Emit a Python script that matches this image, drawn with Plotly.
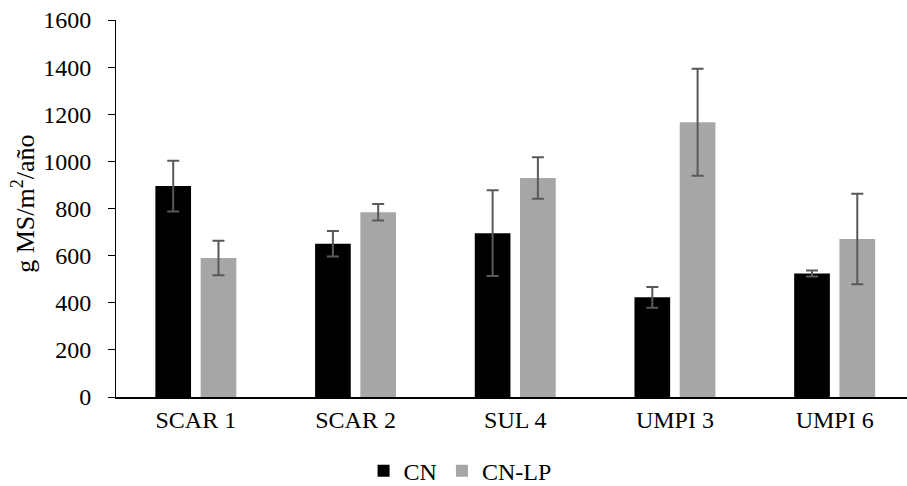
import plotly.graph_objects as go

categories = ["SCAR 1", "SCAR 2", "SUL 4", "UMPI 3", "UMPI 6"]
cn_values = [895, 650, 695, 423, 524]
cn_errors = [108, 54, 182, 44, 13]
cnlp_values = [590, 784, 929, 1166, 671]
cnlp_errors = [73, 35, 88, 227, 192]
y_ticks = [0, 200, 400, 600, 800, 1000, 1200, 1400, 1600]
y_title = "g MS/m<sup>2</sup>/año"

FONT = "Liberation Serif, Times New Roman, serif"
ERR_COLOR = "#595959"
FS = 24

fig = go.Figure()
fig.add_trace(go.Bar(
    name="CN", x=categories, y=cn_values,
    marker=dict(color="#000000", line=dict(width=0)),
    error_y=dict(type="data", array=cn_errors, visible=True,
                 color=ERR_COLOR, thickness=2, width=6),
))
fig.add_trace(go.Bar(
    name="CN-LP", x=categories, y=cnlp_values,
    marker=dict(color="#A6A6A6", line=dict(width=0)),
    error_y=dict(type="data", array=cnlp_errors, visible=True,
                 color=ERR_COLOR, thickness=2, width=6),
))

fig.update_layout(
    width=907, height=486,
    margin=dict(l=116, r=0, t=20, b=89, autoexpand=False),
    paper_bgcolor="white", plot_bgcolor="white",
    barmode="group", bargap=0.433, bargroupgap=0.212,
    font=dict(family=FONT, size=FS, color="#000000"),
    showlegend=True,
    legend=dict(orientation="h", x=0.435, xanchor="center", y=-0.197, yanchor="middle",
                font=dict(family=FONT, size=FS), itemwidth=30,
                bgcolor="rgba(0,0,0,0)"),
    annotations=[dict(text=y_title, xref="paper", yref="paper", x=-0.1165, y=0.512,
                      xanchor="center", yanchor="middle", textangle=-90, showarrow=False,
                      font=dict(family=FONT, size=26, color="#000000"))],
)
fig.update_xaxes(
    range=[-0.5, 4.453], showline=True, linecolor="#000000", linewidth=1.5,
    ticks="", showgrid=False, zeroline=False, automargin=False,
    tickfont=dict(family=FONT, size=FS),
)
fig.update_yaxes(
    range=[0, 1600], tickvals=y_ticks, showline=True, linecolor="#000000", linewidth=1,
    ticks="outside", ticklen=7, tickcolor="#000000", tickwidth=1,
    ticklabelstandoff=12, automargin=False,
    showgrid=False, zeroline=False,
    tickfont=dict(family=FONT, size=FS),
)

fig.write_html("out.html", config={"displayModeBar": False},
               post_script="document.body.style.margin='0';document.body.style.padding='0';")
